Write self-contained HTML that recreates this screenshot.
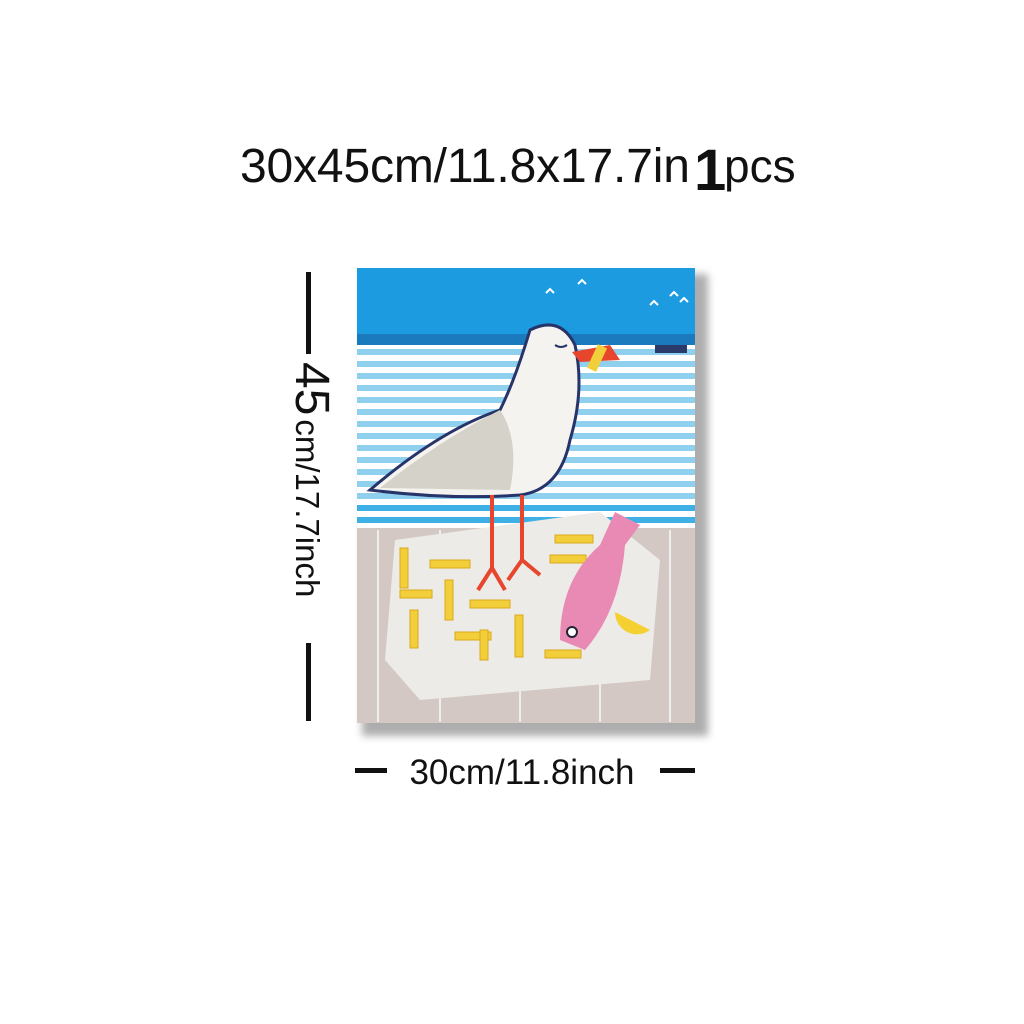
<!DOCTYPE html>
<html><head><meta charset="utf-8"><style>
html,body{margin:0;padding:0;background:#fff;width:1024px;height:1024px;overflow:hidden}
svg{display:block}
</style></head><body>
<svg width="1024" height="1024" viewBox="0 0 1024 1024">
<defs><filter id="blur" x="-10%" y="-10%" width="120%" height="120%"><feGaussianBlur stdDeviation="4"/></filter></defs>
<text x="240" y="182" font-family="Liberation Sans, sans-serif" font-size="48" fill="#111" textLength="450">30x45cm/11.8x17.7in</text>
<text x="694" y="190" font-family="Liberation Sans, sans-serif" font-size="58" font-weight="bold" fill="#111">1</text>
<text x="724" y="182" font-family="Liberation Sans, sans-serif" font-size="46" fill="#111">pcs</text>

<g>
<rect x="362" y="274" width="346" height="462" fill="#777" opacity="0.6" filter="url(#blur)"/>
<rect x="357" y="268" width="338" height="455" fill="#fff"/>
<rect x="357" y="268" width="338" height="70" fill="#1d9be0"/>
<rect x="357" y="334" width="338" height="11" fill="#1b79bd"/>
<g fill="#8fd0ef">
<rect x="357" y="349" width="338" height="6"/><rect x="357" y="361" width="338" height="6"/>
<rect x="357" y="373" width="338" height="6"/><rect x="357" y="385" width="338" height="6"/>
<rect x="357" y="397" width="338" height="6"/><rect x="357" y="409" width="338" height="6"/>
<rect x="357" y="421" width="338" height="6"/><rect x="357" y="433" width="338" height="6"/>
<rect x="357" y="445" width="338" height="6"/><rect x="357" y="457" width="338" height="6"/>
<rect x="357" y="469" width="338" height="6"/><rect x="357" y="481" width="338" height="6"/>
<rect x="357" y="493" width="338" height="6"/><rect x="357" y="505" width="338" height="6" fill="#3fb0e6"/>
<rect x="357" y="517" width="338" height="6" fill="#3fb0e6"/>
</g>
<rect x="357" y="528" width="338" height="195" fill="#d3c8c3"/>
<g stroke="#eee" stroke-width="2">
<line x1="378" y1="530" x2="378" y2="722"/><line x1="440" y1="530" x2="440" y2="722"/>
<line x1="520" y1="530" x2="520" y2="722"/><line x1="600" y1="530" x2="600" y2="722"/><line x1="670" y1="530" x2="670" y2="722"/>
</g>
<path d="M395 540 L600 512 L660 560 L650 680 L420 700 L385 660 Z" fill="#ecebe7"/>
<g fill="#f2cf3a" stroke="#d9a91a" stroke-width="1">
<rect x="400" y="548" width="8" height="40"/><rect x="430" y="560" width="40" height="8"/>
<rect x="445" y="580" width="8" height="40"/><rect x="410" y="610" width="8" height="38"/>
<rect x="470" y="600" width="40" height="8"/><rect x="515" y="615" width="8" height="42"/>
<rect x="455" y="632" width="36" height="8"/><rect x="555" y="535" width="38" height="8"/>
<rect x="550" y="555" width="36" height="8"/><rect x="545" y="650" width="36" height="8"/>
<rect x="480" y="630" width="8" height="30"/><rect x="400" y="590" width="32" height="8"/>
</g>
<g>
<path d="M560 640 Q560 580 600 545 L615 512 L640 525 L625 545 Q620 610 585 650 Z" fill="#e98ab4"/>
<circle cx="572" cy="632" r="5" fill="#fff" stroke="#223" stroke-width="2"/>
<path d="M615 612 A22 22 0 0 0 650 630 Z" fill="#f5d033"/>
</g>
<g>
<path d="M370 490 Q440 430 500 410 Q515 380 530 330 Q560 315 575 345 Q585 390 570 440 Q560 490 520 495 Q450 500 370 490 Z" fill="#f4f3ef" stroke="#26346a" stroke-width="3"/>
<path d="M380 488 Q440 440 500 410 Q520 440 510 490 Z" fill="#d4d2c9"/>
<path d="M572 352 L610 345 L620 360 L580 362 Z" fill="#e7452c"/>
<rect x="592" y="345" width="10" height="26" fill="#f2cf3a" transform="rotate(25 597 358)"/>
<path d="M555 345 q6 4 12 0" stroke="#26346a" stroke-width="2" fill="none"/>
<g stroke="#e7452c" stroke-width="4" fill="none">
<line x1="492" y1="495" x2="492" y2="570"/><line x1="522" y1="495" x2="522" y2="560"/>
<path d="M478 590 L492 568 L505 590"/><path d="M508 580 L522 560 L540 575"/>
</g>
</g>
<g stroke="#fff" stroke-width="2" fill="none">
<path d="M546 293 l4 -4 l4 4"/><path d="M578 284 l4 -4 l4 4"/><path d="M650 305 l4 -4 l4 4"/><path d="M670 296 l4 -4 l4 4"/><path d="M680 302 l4 -4 l4 4"/>
</g>
<rect x="655" y="345" width="32" height="8" fill="#2a3a6a"/>
</g>

<g>
<rect x="306" y="272" width="5" height="82" fill="#111"/>
<rect x="306" y="643" width="5" height="78" fill="#111"/>
<text transform="translate(296,362) rotate(90)" font-family="Liberation Sans, sans-serif" fill="#111"><tspan font-size="48">45</tspan><tspan font-size="33" dx="4">cm/17.7inch</tspan></text>
</g>
<g>
<rect x="355" y="768" width="32" height="5" fill="#111"/>
<rect x="660" y="768" width="35" height="5" fill="#111"/>
<text x="522" y="784" text-anchor="middle" font-family="Liberation Sans, sans-serif" font-size="35" fill="#111">30cm/11.8inch</text>
</g>
</svg>
</body></html>
